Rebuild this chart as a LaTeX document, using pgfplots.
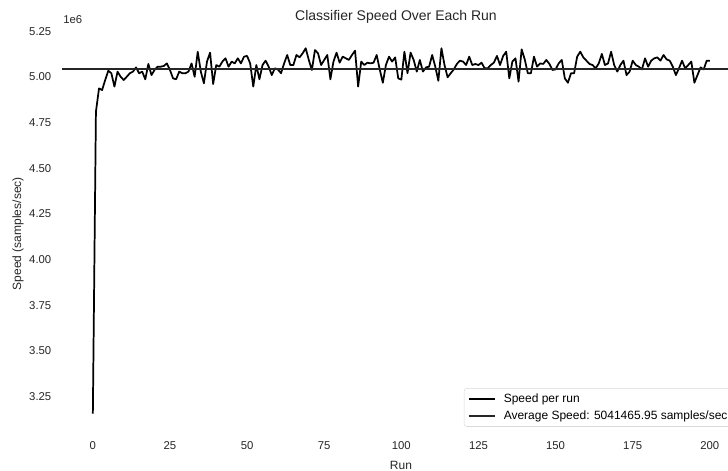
\documentclass[border=0pt]{standalone}
\usepackage{fontspec}
\setmainfont{Liberation Sans}
\usepackage{pgfplots}
\usepackage{pgfplotstable}
\pgfplotsset{compat=1.18}
\pgfplotstableread{
run speed
0 3.155
1 4.810
2 4.937
3 4.928
4 4.983
5 5.034
6 5.020
7 4.947
8 5.029
9 5.001
10 4.983
11 5.001
12 5.020
13 5.029
14 5.052
15 5.020
16 5.029
17 4.987
18 5.071
19 5.010
20 5.038
21 5.056
22 5.056
23 5.060
24 5.074
25 5.038
26 4.992
27 4.987
28 5.029
29 5.020
30 5.020
31 5.029
32 5.074
33 5.001
34 5.138
35 5.029
36 4.965
37 5.084
38 5.133
39 4.961
40 5.065
41 5.056
42 5.084
43 5.102
44 5.056
45 5.084
46 5.074
47 5.102
48 5.074
49 5.111
50 5.115
51 5.074
52 4.947
53 5.065
54 4.987
55 5.065
56 5.089
57 5.056
58 5.010
59 5.047
60 5.041
61 5.020
62 5.074
63 5.120
64 5.065
65 5.065
66 5.120
67 5.107
68 5.129
69 5.157
70 5.093
71 5.038
72 5.147
73 5.129
74 5.065
75 5.093
76 5.120
77 4.987
78 5.084
79 5.133
80 5.078
81 5.111
82 5.102
83 5.093
84 5.120
85 5.144
86 4.947
87 5.084
88 5.065
89 5.078
90 5.074
91 5.078
92 5.120
93 5.041
94 4.968
95 5.065
96 5.111
97 5.084
98 5.107
99 4.992
100 4.985
101 5.138
102 5.020
103 5.133
104 5.093
105 5.029
106 5.093
107 5.029
108 5.052
109 5.056
110 5.120
111 5.056
112 4.979
113 5.157
114 5.065
115 4.998
116 5.020
117 5.041
118 5.071
119 5.089
120 5.084
121 5.065
122 5.111
123 5.065
124 5.071
125 5.065
126 5.078
127 5.047
128 5.047
129 5.065
130 5.078
131 5.115
132 5.065
133 5.115
134 5.138
135 4.992
136 5.084
137 5.102
138 4.974
139 5.151
140 5.096
141 5.020
142 5.020
143 5.111
144 5.056
145 5.074
146 5.071
147 5.093
148 5.071
149 5.038
150 5.041
151 5.074
152 5.093
153 4.992
154 4.968
155 5.020
156 5.020
157 5.111
158 5.138
159 5.107
160 5.089
161 5.071
162 5.065
163 5.047
164 5.074
165 5.126
166 5.065
167 5.074
168 5.138
169 5.065
170 5.029
171 5.065
172 5.089
173 5.010
174 5.029
175 5.089
176 5.065
177 5.056
178 5.041
179 5.102
180 5.056
181 5.089
182 5.102
183 5.107
184 5.089
185 5.120
186 5.096
187 5.089
188 5.056
189 5.010
190 5.047
191 5.089
192 5.047
193 5.065
194 5.084
195 4.968
196 5.010
197 5.052
198 5.041
199 5.089
200 5.089
}\speeddata
\pgfplotstableread{
run speed
-10 5.0414660
210 5.0414660
}\avgdata
\begin{document}
\begin{tikzpicture}
\begin{axis}[
  at={(46.5pt,29.25pt)}, anchor=south west,
  scale only axis, width=509pt, height=301.5pt,
  xmin=-10, xmax=210, ymin=3.055, ymax=5.257,
  axis line style={draw=none},
  major tick length=0pt,
  xtick={0,25,50,75,100,125,150,175,200},
  ytick={3.25,3.5,3.75,4,4.25,4.5,4.75,5,5.25},
  y tick label style={/pgf/number format/fixed, /pgf/number format/fixed zerofill, /pgf/number format/precision=2},
  /pgf/number format/assume math mode=true,
  tick label style={font=\fontsize{8.5}{10}\selectfont, color=black!85},
  xticklabel style={yshift=-4pt},
  yticklabel style={xshift=-4.5pt},
  clip=true,
  legend style={at={(0.592,0.109)}, anchor=north west, draw=black!15, rounded corners=2pt,
    font=\fontsize{9}{10}\selectfont, cells={anchor=west}, inner xsep=3pt, inner ysep=2pt,
    row sep=0.5pt, column sep=4pt},
  legend image code/.code={\draw[#1, line width=1.3pt] (0pt,0pt) -- (19.5pt,0pt);},
]
\addplot[black, line width=1.3pt, line join=round] table[x=run, y=speed] {\speeddata};
\addlegendentry{Speed per run}
\addplot[black!85, line width=1.3pt] table[x=run, y=speed] {\avgdata};
\addlegendentry{Average Speed: 5041465.95 samples/sec}
\end{axis}
\node[font=\fontsize{10.5}{12}\selectfont, color=black!85] at (297pt,340.5pt) {Classifier Speed Over Each Run};
\node[font=\fontsize{8.5}{10}\selectfont, color=black!85, anchor=west, inner sep=0pt] at (47.25pt,338.25pt) {1e6};
\node[font=\fontsize{9}{10}\selectfont, color=black!85, rotate=90] at (13.5pt,178pt) {Speed (samples/sec)};
\node[font=\fontsize{9}{10}\selectfont, color=black!85] at (300.75pt,4.5pt) {Run};
\pgfresetboundingbox
\useasboundingbox (0pt,0pt) rectangle (546pt,353.25pt);
\end{tikzpicture}
\end{document}
